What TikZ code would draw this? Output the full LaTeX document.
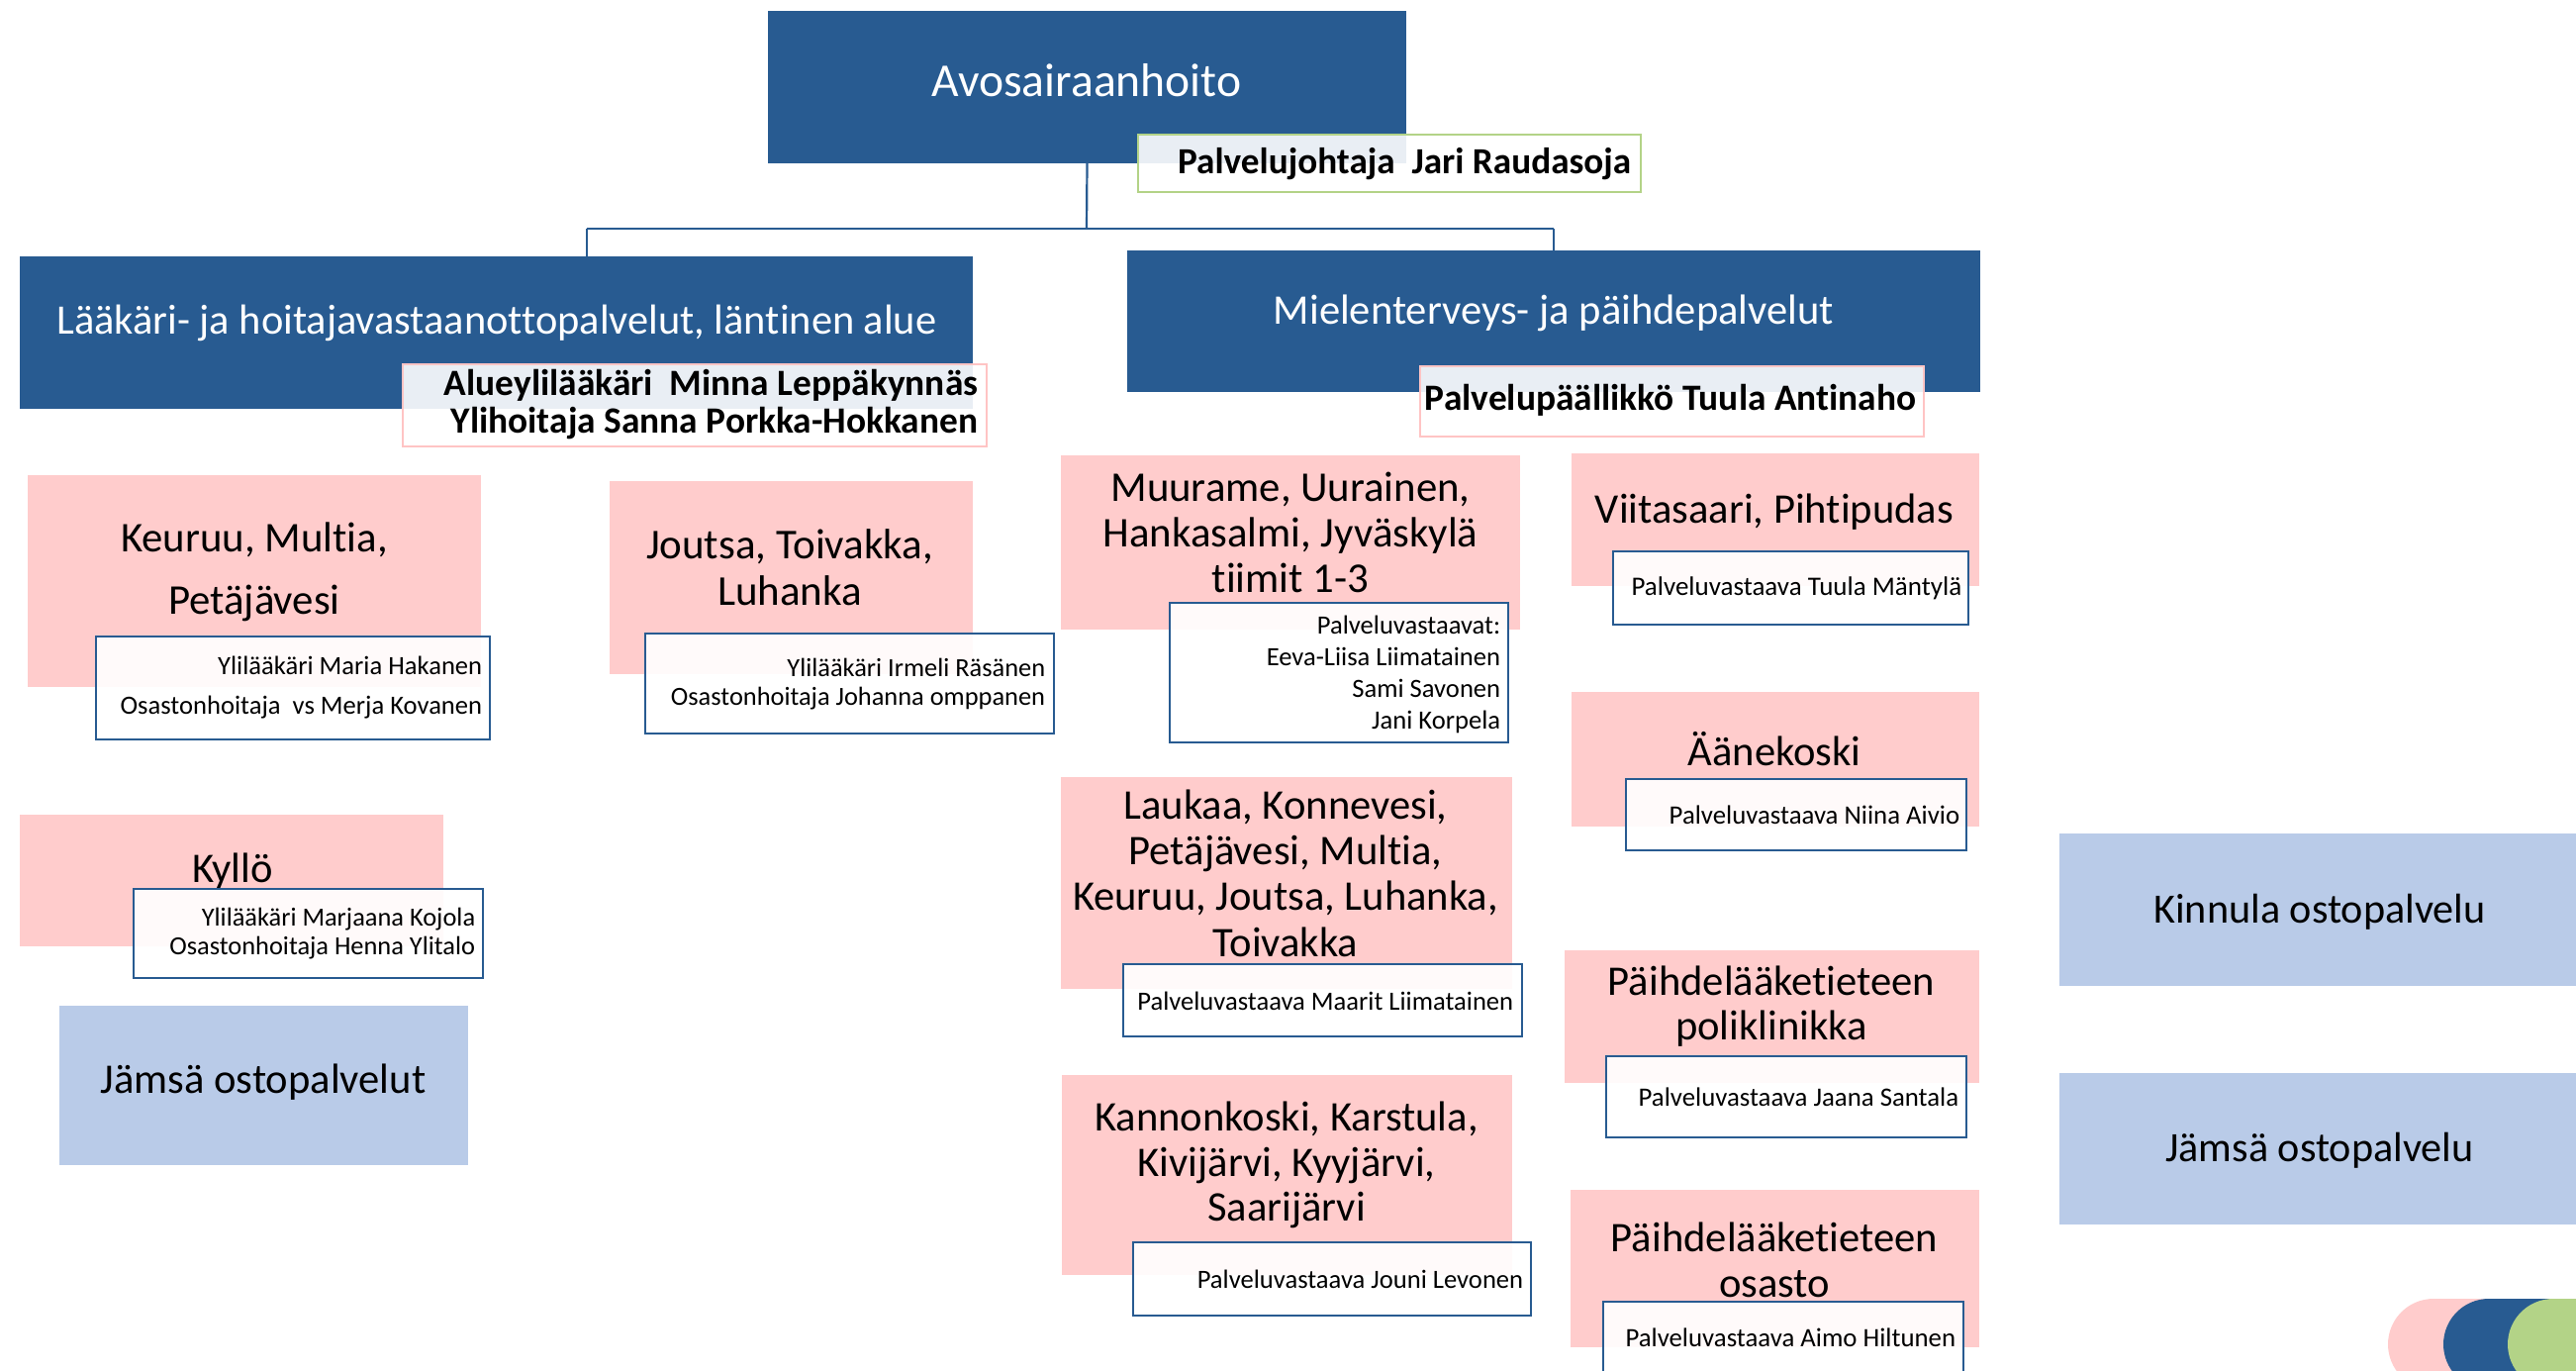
\documentclass[tikz,border=0pt]{standalone}
\usepackage{fontspec}
\setmainfont[Ligatures=NoCommon]{Carlito}
\usetikzlibrary{fit}
\definecolor{hdblue}{RGB}{40,91,145}
\definecolor{pinkf}{RGB}{255,204,204}
\definecolor{lblue}{RGB}{185,203,232}
\definecolor{lgreen}{RGB}{179,211,135}
\definecolor{pinkb}{RGB}{255,196,196}
\newcommand\fs[2]{\fontsize{#1}{#2}\selectfont}
\begin{document}
\begin{tikzpicture}[x=0.25pt,y=-0.25pt,
  box/.style={inner sep=0pt, outer sep=0pt},
  hdbox/.style={box, fill=hdblue},
  pinkbox/.style={box, fill=pinkf},
  bluebox/.style={box, fill=lblue},
  namebox/.style={box, fill=white, fill opacity=0.9, draw=hdblue, draw opacity=1, line width=0.55pt},
  leadbox/.style={box, fill=white, fill opacity=0.9, draw opacity=1, line width=0.55pt},
  conn/.style={draw=hdblue, line width=0.55pt},
  hdtxt/.style={inner sep=0pt, text=white, align=center},
  txt/.style={inner sep=0pt, text=black, align=center},
  ntxt/.style={inner sep=0pt, text=black, align=right, anchor=east},
  ]
\useasboundingbox (0,0) rectangle (2603,1384);
\clip (0,0) rectangle (2603,1384);

% ---------- top level ----------
\node[hdbox, fit={(776,11)(1421,165)}] (avos) {};
\node[hdtxt, font=\fs{11.9}{14}] (avost) at (1098,81) {Avosairaanhoito};
\node[leadbox, draw=lgreen, fit={(1150,136)(1658,194)}] (pj) {};
\node[ntxt, font=\bfseries\fs{9.3}{10.5}] (pjt) at (1649,166) {Palvelujohtaja\ \ Jari Raudasoja};

% ---------- second level ----------
\node[hdbox, fit={(20,259)(983,413)}] (lak) {};
\node[hdtxt, font=\fs{10.6}{12}] (lakt) at (502,326) {Lääkäri- ja hoitajavastaanottopalvelut, läntinen alue};
\node[leadbox, draw=pinkb, fit={(407,368)(997,451)}] (alue) {};
\node[ntxt, font=\bfseries\fs{9.35}{9.5}] (aluet) at (989,409) {Alueylilääkäri\ \ Minna Leppäkynnäs\\Ylihoitaja Sanna Porkka-Hokkanen};

\node[hdbox, fit={(1139,253)(2001,396)}] (miel) {};
\node[hdtxt, font=\fs{10.65}{12}] (mielt) at (1570,316) {Mielenterveys- ja päihdepalvelut};
\node[leadbox, draw=pinkb, fit={(1435,370)(1944,441)}] (pp) {};
\node[ntxt, font=\bfseries\fs{9.35}{10.5}] (ppt) at (1937,404) {Palvelupäällikkö Tuula Antinaho};

% ---------- connectors ----------
\coordinate (bus) at (1098,231);
\coordinate (busl) at (593,231);
\coordinate (busr) at (1570,231);
\draw[conn] (avos.south) -- (bus);
\draw[conn] (busl) -- (busr);
\draw[conn] (busl) -- (busl |- lak.north);
\draw[conn] (busr) -- (busr |- miel.north);

% ---------- left column ----------
\node[pinkbox, fit={(28,480)(486,694)}] (keu) {};
\node[txt, font=\fs{10.7}{15.75}] (keut) at (257,578) {Keuruu, Multia,\\Petäjävesi};
\node[namebox, fit={(97,643)(495,747)}] (keun) {};
\node[ntxt, font=\fs{6.65}{10}] (keunt) at (488,695) {Ylilääkäri Maria Hakanen\\Osastonhoitaja\ \ vs Merja Kovanen};

\node[pinkbox, fit={(616,486)(983,681)}] (jou) {};
\node[txt, font=\fs{10.75}{11.75}] (jout) at (798,573) {Joutsa, Toivakka,\\Luhanka};
\node[namebox, fit={(652,640)(1065,741)}] (joun) {};
\node[ntxt, font=\fs{6.6}{7.25}] (jount) at (1057,691) {Ylilääkäri Irmeli Räsänen\\Osastonhoitaja Johanna omppanen};

\node[pinkbox, fit={(20,823)(448,956)}] (kyl) {};
\node[txt, font=\fs{10.65}{11.5}] (kylt) at (235,880) {Kyllö};
\node[namebox, fit={(135,898)(488,988)}] (kyln) {};
\node[ntxt, font=\fs{6.6}{7.25}] (kylnt) at (481,943) {Ylilääkäri Marjaana Kojola\\Osastonhoitaja Henna Ylitalo};

\node[bluebox, fit={(60,1016)(473,1177)}] (jamL) {};
\node[txt, font=\fs{10.65}{11.5}] (jamLt) at (266,1093) {Jämsä ostopalvelut};

% ---------- middle column ----------
\node[pinkbox, fit={(1072,460)(1536,636)}] (muu) {};
\node[txt, font=\fs{10.7}{11.4}] (muut) at (1304,538) {Muurame, Uurainen,\\Hankasalmi, Jyväskylä\\tiimit 1-3};
\node[namebox, fit={(1182,609)(1524,750)}] (muun) {};
\node[ntxt, font=\fs{6.65}{8}] (muunt) at (1517,681) {Palveluvastaavat:\\Eeva-Liisa Liimatainen\\Sami Savonen\\Jani Korpela};

\node[pinkbox, fit={(1072,785)(1528,999)}] (lau) {};
\node[txt, font=\fs{10.65}{11.6}] (laut) at (1299,882) {Laukaa, Konnevesi,\\Petäjävesi, Multia,\\Keuruu, Joutsa, Luhanka,\\Toivakka};
\node[namebox, fit={(1135,974)(1538,1047)}] (laun) {};
\node[ntxt, font=\fs{6.65}{7.25}] (launt) at (1530,1011) {Palveluvastaava Maarit Liimatainen};

\node[pinkbox, fit={(1073,1086)(1528,1288)}] (kan) {};
\node[txt, font=\fs{10.65}{11.4}] (kant) at (1300,1177) {Kannonkoski, Karstula,\\Kivijärvi, Kyyjärvi,\\Saarijärvi};
\node[namebox, fit={(1145,1255)(1547,1329)}] (kann) {};
\node[ntxt, font=\fs{6.65}{7.25}] (kannt) at (1540,1292) {Palveluvastaava Jouni Levonen};

% ---------- right column ----------
\node[pinkbox, fit={(1588,458)(2000,592)}] (vii) {};
\node[txt, font=\fs{10.65}{11.4}] (viit) at (1793,517) {Viitasaari, Pihtipudas};
\node[namebox, fit={(1630,557)(1989,631)}] (viin) {};
\node[ntxt, font=\fs{6.75}{7.25}] (viint) at (1983,594) {Palveluvastaava Tuula Mäntylä};

\node[pinkbox, fit={(1588,699)(2000,835)}] (aan) {};
\node[txt, font=\fs{10.65}{11.4}] (aant) at (1793,757) {Äänekoski};
\node[namebox, fit={(1643,787)(1987,859)}] (aann) {};
\node[ntxt, font=\fs{6.7}{7.25}] (aannt) at (1981,823) {Palveluvastaava Niina Aivio};

\node[pinkbox, fit={(1581,960)(2000,1094)}] (pol) {};
\node[txt, font=\fs{10.65}{11.25}] (polt) at (1790,1017) {Päihdelääketieteen\\poliklinikka};
\node[namebox, fit={(1623,1067)(1987,1149)}] (poln) {};
\node[ntxt, font=\fs{6.7}{7.25}] (polnt) at (1980,1108) {Palveluvastaava Jaana Santala};

\node[pinkbox, fit={(1587,1202)(2000,1361)}] (osa) {};
\node[txt, font=\fs{10.65}{11.5}] (osat) at (1793,1273) {Päihdelääketieteen\\osasto};
\node[namebox, fit={(1620,1315)(1984,1400)}] (osan) {};
\node[ntxt, font=\fs{6.7}{7.25}] (osant) at (1977,1351) {Palveluvastaava Aimo Hiltunen};

% ---------- purchased services ----------
\node[bluebox, fit={(2081,842)(2640,996)}] (kin) {};
\node[txt, font=\fs{10.55}{11.5}] (kint) at (2344,921) {Kinnula ostopalvelu};
\node[bluebox, fit={(2081,1084)(2640,1237)}] (jamR) {};
\node[txt, font=\fs{10.55}{11.5}] (jamRt) at (2344,1162) {Jämsä ostopalvelu};

% ---------- logo ----------
\fill[pinkf, rounded corners=11.5pt] (2413,1312) rectangle (2800,1404);
\fill[hdblue, rounded corners=11.5pt] (2469,1312) rectangle (2800,1404);
\fill[lgreen, rounded corners=11.5pt] (2534,1312) rectangle (2800,1404);
\end{tikzpicture}
\end{document}
